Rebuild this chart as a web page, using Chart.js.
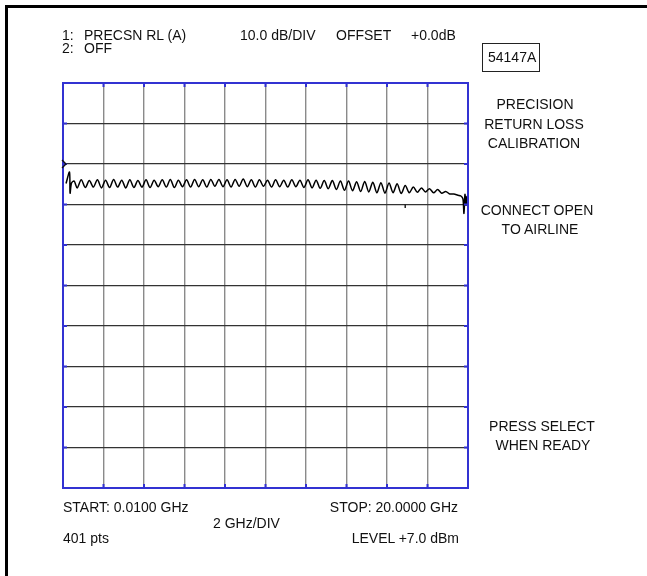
<!DOCTYPE html>
<html><head><meta charset="utf-8">
<script src="https://cdn.jsdelivr.net/npm/chart.js@4.4.1/dist/chart.umd.min.js"></script>
<style>
html,body{margin:0;padding:0;background:#fff;}
#wrap{position:relative;width:647px;height:576px;overflow:hidden;font-family:"Liberation Sans",Arial,sans-serif;font-size:14px;color:#111;}
#frame{position:absolute;left:5px;top:5px;width:760px;height:700px;border-left:3px solid #000;border-top:3px solid #000;}
canvas{position:absolute;left:0;top:0;}
.t{position:absolute;white-space:pre;line-height:14px;height:14px;}
.c{width:200px;text-align:center;}
.r{width:300px;text-align:right;}
#box{position:absolute;left:482px;top:43px;width:56px;height:27px;border:1px solid #222;}
</style></head>
<body>
<div id="wrap">
<div id="frame"></div>
<canvas id="c" width="647" height="576"></canvas>
<div id="box"></div>
<div class="t" style="left:62px;top:28px">1:</div>
<div class="t" style="left:84px;top:28px">PRECSN RL (A)</div>
<div class="t" style="left:62px;top:41px">2:</div>
<div class="t" style="left:84px;top:41px">OFF</div>
<div class="t" style="left:240px;top:28px">10.0 dB/DIV</div>
<div class="t" style="left:336px;top:28px">OFFSET</div>
<div class="t" style="left:411px;top:28px">+0.0dB</div>
<div class="t" style="left:488px;top:50px">54147A</div>
<div class="t c" style="left:435px;top:97px">PRECISION</div>
<div class="t c" style="left:434px;top:117px">RETURN LOSS</div>
<div class="t c" style="left:434px;top:136px">CALIBRATION</div>
<div class="t c" style="left:437px;top:203px">CONNECT OPEN</div>
<div class="t c" style="left:440px;top:222px">TO AIRLINE</div>
<div class="t c" style="left:442px;top:419px">PRESS SELECT</div>
<div class="t c" style="left:443px;top:438px">WHEN READY</div>
<div class="t" style="left:63px;top:500px">START: 0.0100 GHz</div>
<div class="t r" style="left:158px;top:500px">STOP: 20.0000 GHz</div>
<div class="t" style="left:213px;top:516px">2 GHz/DIV</div>
<div class="t" style="left:63px;top:531px">401 pts</div>
<div class="t r" style="left:159px;top:531px">LEVEL +7.0 dBm</div>
</div>
<script>
// Frequency axis (GHz) and measured level (dB)
const freqGHz = [0.15,0.32,0.35,0.42,0.55,0.7,0.9,1.1,1.3,1.5,1.7,1.9,2.1,2.3,2.5,2.7,2.9,3.1,3.3,3.5,3.7,3.9,4.1,4.3,4.5,4.7,4.9,5.1,5.3,5.5,5.7,5.9,6.1,6.3,6.5,6.7,6.9,7.1,7.3,7.5,7.7,7.9,8.1,8.3,8.5,8.7,8.9,9.1,9.3,9.5,9.7,9.9,10.1,10.3,10.5,10.7,10.9,11.1,11.3,11.5,11.7,11.9,12.1,12.3,12.5,12.7,12.9,13.1,13.3,13.5,13.7,13.9,14.1,14.3,14.5,14.7,14.9,15.1,15.3,15.5,15.7,15.9,16.1,16.3,16.5,16.7,16.9,17.1,17.3,17.5,17.7,17.9,18.1,18.3,18.5,18.7,18.9,19.1,19.3,19.5,19.65,19.75,19.8,19.85,19.9,19.95,20];
const levelDb = [-4.8,-2.0,-7.2,-4.7,-4.2,-5.9,-3.9,-5.8,-4.1,-5.7,-3.9,-5.9,-4.0,-5.8,-3.8,-5.7,-4.0,-5.9,-3.9,-5.8,-4.1,-5.7,-3.9,-5.8,-4.0,-5.6,-3.9,-5.7,-3.8,-5.8,-4.0,-5.6,-3.9,-5.7,-3.8,-5.6,-3.9,-5.7,-3.8,-5.5,-3.8,-5.6,-3.9,-5.7,-3.8,-5.5,-3.7,-5.6,-3.9,-5.7,-3.9,-5.5,-4.0,-5.7,-3.9,-5.6,-4.0,-5.7,-3.9,-5.6,-4.0,-5.8,-3.9,-5.9,-4.0,-6.0,-4.1,-6.1,-4.1,-6.3,-4.2,-6.5,-4.2,-6.6,-4.4,-6.8,-4.3,-6.9,-4.5,-7.1,-4.6,-7.2,-4.7,-7.1,-4.9,-7.3,-5.3,-7.1,-5.7,-7.0,-5.9,-6.9,-6.1,-7.1,-6.3,-7.2,-6.8,-7.4,-7.4,-7.7,-7.9,-8.6,-12.2,-7.5,-10.2,-8.0,-9.2];
const markerGHz = [16.9];
const markerDb = [-10.4];
const refLevelDb = 0;
// Graticule: 2 GHz/DIV, 10 dB/DIV
const xTicks = [0,2,4,6,8,10,12,14,16,18,20];
const yTicks = [20,10,0,-10,-20,-30,-40,-50,-60,-70,-80];

const BLUE = '#3232d2';
const deco = {
  id:'deco',
  afterDatasetsDraw(chart){
    const {ctx, chartArea:a, scales:{x,y}} = chart;
    ctx.save();
    ctx.strokeStyle = BLUE; ctx.lineWidth = 2;
    ctx.strokeRect(a.left, a.top, a.right-a.left, a.bottom-a.top);
    const seg=(x1,y1,x2,y2)=>{ctx.beginPath();ctx.moveTo(x1,y1);ctx.lineTo(x2,y2);ctx.stroke();};
    xTicks.forEach(v=>{const p=x.getPixelForValue(v); seg(p,a.top,p,a.top+4); seg(p,a.bottom,p,a.bottom-4);});
    yTicks.forEach(v=>{const p=y.getPixelForValue(v); seg(a.left,p,a.left+4,p); seg(a.right,p,a.right-4,p);});
    const ry = y.getPixelForValue(refLevelDb);
    ctx.strokeStyle='#111'; ctx.lineWidth=1.4;
    ctx.beginPath(); ctx.moveTo(a.left-1, ry-4); ctx.lineTo(a.left+3, ry); ctx.lineTo(a.left-1, ry+4); ctx.stroke();
    ctx.restore();
  }
};

new Chart(document.getElementById('c'), {
  type:'line',
  data:{datasets:[
    {data: freqGHz.map((f,i)=>({x:f,y:levelDb[i]})), borderColor:'#000', borderWidth:1.5, pointRadius:0, tension:0.3, fill:false},
    {data: markerGHz.map((f,i)=>({x:f,y:markerDb[i]})), showLine:false, pointStyle:'line', rotation:90, pointRadius:2, borderColor:'#222', borderWidth:1.5}
  ]},
  options:{
    responsive:false, animation:false, devicePixelRatio:1,
    layout:{padding:{left:63,top:83,right:179,bottom:88}},
    plugins:{legend:{display:false}, tooltip:{enabled:false}},
    scales:{
      x:{type:'linear', min:0, max:20,
         afterBuildTicks:s=>{s.ticks = xTicks.map(v=>({value:v}));},
         ticks:{display:false}, border:{display:false},
         grid:{drawTicks:false, color:'#8a8a8a', lineWidth:1.4}},
      y:{type:'linear', min:-80, max:20,
         afterBuildTicks:s=>{s.ticks = yTicks.map(v=>({value:v}));},
         ticks:{display:false}, border:{display:false},
         grid:{drawTicks:false, color:'#333', lineWidth:1.2}}
    }
  },
  plugins:[deco]
});
</script>
</body></html>
